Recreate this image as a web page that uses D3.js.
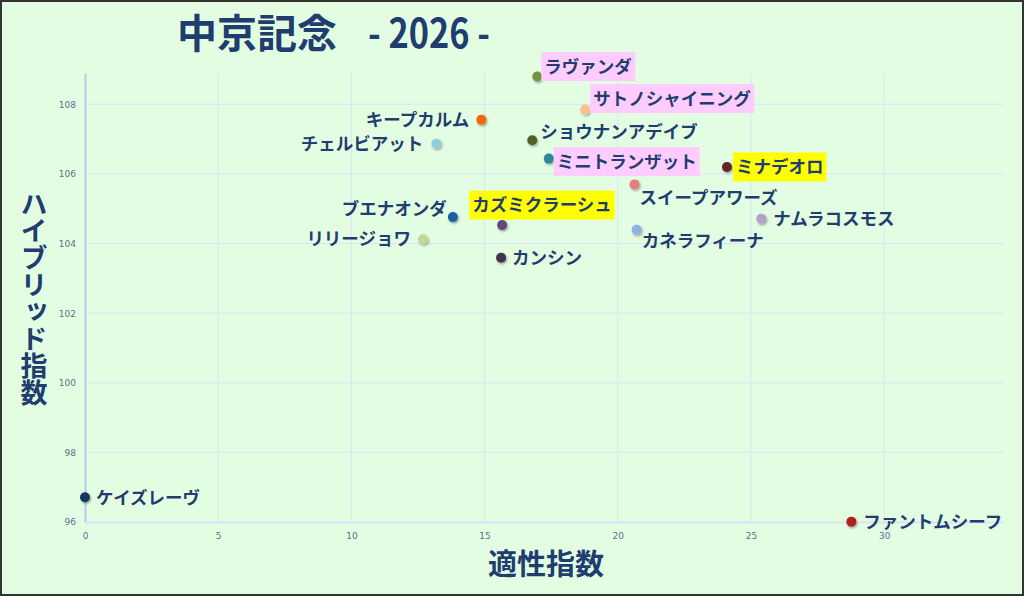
<!DOCTYPE html>
<html>
<head>
<meta charset="utf-8">
<script src="https://cdn.jsdelivr.net/npm/d3@7"></script>
<style>
  html, body { margin: 0; padding: 0; background: #fff; }
  svg { display: block; font-family: "Noto Sans CJK JP", "Noto Sans", sans-serif; }
</style>
</head>
<body>
<svg id="chart"></svg>
<script>
// horses and their two indices
const horses = ["ラヴァンダ","サトノシャイニング","キープカルム","ショウナンアデイブ","チェルビアット","ミニトランザット","ミナデオロ","スイープアワーズ","ナムラコスモス","カネラフィーナ","ブエナオンダ","カズミクラーシュ","リリージョワ","カンシン","ケイズレーヴ","ファントムシーフ"];
const tekisei = [16.98, 18.78, 14.88, 16.79, 13.19, 17.41, 24.1, 20.63, 25.39, 20.71, 13.81, 15.66, 12.69, 15.62, 0, 28.77];
const hybrid = [108.8, 107.85, 107.56, 106.97, 106.87, 106.44, 106.2, 105.7, 104.71, 104.4, 104.76, 104.53, 104.12, 103.59, 96.71, 96.01];
const highlight = ["pink","pink","","","","pink","yellow","","","","","yellow","","","",""];
const xTicks = [0, 5, 10, 15, 20, 25, 30];
const yTicks = [96, 98, 100, 102, 104, 106, 108];

// dot colours, one per horse
const dotColors = ["#76923c","#fac090","#f0680a","#4f6228","#93cddd","#31859c","#632523","#e07f7c","#b3a2c7","#8eb4e3","#1f5fa6","#5f497a","#c3d69b","#3f3151","#17375e","#b0201f"];

// where the name sits next to its dot: [dx, dy, anchor]
const labelPlace = [
  [7, -10, "start"], [8, -11, "start"], [-12, 0, "end"], [8, -8, "start"],
  [-13, 0, "end"], [8, 3, "start"], [9, 0, "start"], [5, 13, "start"],
  [12, 0, "start"], [5, 11, "start"], [-6, -8, "end"], [-30, -20, "start"],
  [-12, -1, "end"], [11, 0, "start"], [11, 0, "start"], [12, 0, "start"]
];

const W = 1024, H = 596;
const margin = {top: 73, right: 20, bottom: 74, left: 85};
const textColor = "#1f3d6e";

const svg = d3.select("#chart").attr("width", W).attr("height", H);

svg.append("rect").attr("x", 1).attr("y", 1).attr("width", W - 2).attr("height", H - 2)
  .attr("fill", "#e3fde2").attr("stroke", "#333").attr("stroke-width", 2);

const defs = svg.append("defs");
const f = defs.append("filter").attr("id", "shadow").attr("x", "-50%").attr("y", "-50%").attr("width", "200%").attr("height", "200%");
f.append("feDropShadow").attr("dx", 1).attr("dy", 1.5).attr("stdDeviation", 1.2)
  .attr("flood-color", "#000").attr("flood-opacity", 0.35);

const x = d3.scaleLinear().domain([0, 34.5]).range([margin.left, W - margin.right - 0]);
const y = d3.scaleLinear().domain([96, 108.9]).range([H - margin.bottom, margin.top]);

// grid
const grid = svg.append("g");
grid.selectAll(".vg").data(xTicks.slice(1)).enter().append("line")
  .attr("x1", d => x(d)).attr("x2", d => x(d))
  .attr("y1", y.range()[1]).attr("y2", y.range()[0])
  .attr("stroke", "#d8e4f6").attr("stroke-width", 1);
grid.selectAll(".hg").data(yTicks.slice(1)).enter().append("line")
  .attr("x1", x.range()[0]).attr("x2", x.range()[1])
  .attr("y1", d => y(d)).attr("y2", d => y(d))
  .attr("stroke", "#d8e4f6").attr("stroke-width", 1);

// axes
const xAxis = svg.append("g").attr("transform", `translate(0,${y(96)})`)
  .call(d3.axisBottom(x).tickValues(xTicks).tickSize(0).tickPadding(11));
xAxis.select(".domain").attr("stroke", "#d8e4f6").attr("stroke-width", 2);
const yAxis = svg.append("g").attr("transform", `translate(${x(0)},0)`)
  .call(d3.axisLeft(y).tickValues(yTicks).tickSize(0).tickPadding(9));
yAxis.select(".domain").attr("stroke", "#b7cbec").attr("stroke-width", 2);
svg.selectAll(".tick text").attr("fill", "#5d6e8c").attr("font-size", 9)
  .attr("font-family", "'DejaVu Sans', sans-serif");

// title
const title = svg.append("text").attr("y", 48).attr("fill", textColor).attr("font-weight", "bold");
title.append("tspan").attr("x", 177).attr("font-size", 40).text("中京記念");
title.append("tspan").attr("x", 368).attr("font-size", 40)
  .attr("textLength", 122).attr("lengthAdjust", "spacingAndGlyphs").text("- 2026 -");

// axis titles
svg.append("text").attr("x", 546).attr("y", 575).attr("text-anchor", "middle")
  .attr("fill", textColor).attr("font-size", 29).attr("font-weight", "bold").text("適性指数");
svg.append("text").attr("x", 34).attr("y", 190).attr("writing-mode", "tb")
  .attr("glyph-orientation-vertical", 0)
  .attr("fill", textColor).attr("font-size", 27).attr("font-weight", "bold").text("ハイブリッド指数");

// points
const data = horses.map((name, i) => ({
  name, tx: tekisei[i], hy: hybrid[i], hl: highlight[i], color: dotColors[i], place: labelPlace[i]
}));

svg.append("g").selectAll("circle").data(data).enter().append("circle")
  .attr("cx", d => x(d.tx)).attr("cy", d => y(d.hy)).attr("r", 5)
  .attr("fill", d => d.color).attr("filter", "url(#shadow)");

const labels = svg.append("g").selectAll("g").data(data).enter().append("g");
labels.each(function(d) {
  const g = d3.select(this);
  const t = g.append("text")
    .attr("x", x(d.tx) + d.place[0]).attr("y", y(d.hy) + d.place[1])
    .attr("dy", "0.36em").attr("text-anchor", d.place[2])
    .attr("fill", textColor).attr("font-size", 17.5).attr("font-weight", "bold")
    .text(d.name);
  if (d.hl) {
    const b = t.node().getBBox();
    g.insert("rect", "text")
      .attr("x", b.x - 3).attr("y", y(d.hy) + d.place[1] - 14.5)
      .attr("width", b.width + 6).attr("height", 29)
      .attr("fill", d.hl === "pink" ? "#ffccff" : "#ffff00");
  }
});
</script>
</body>
</html>
